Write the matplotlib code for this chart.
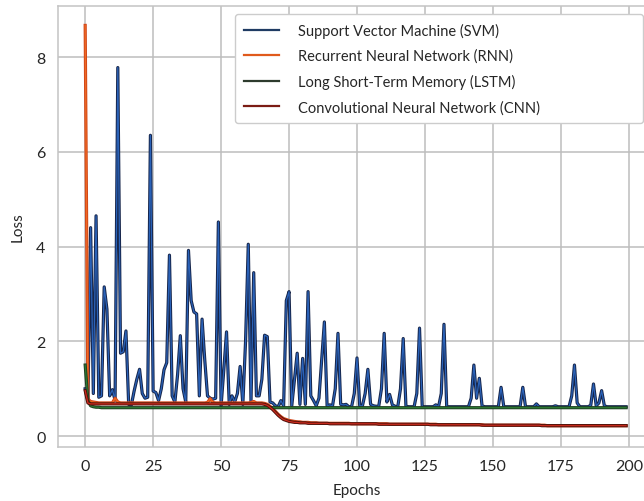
import numpy as np
import matplotlib
matplotlib.use("Agg")
import matplotlib.pyplot as plt
import matplotlib.patheffects as pe
from matplotlib.legend_handler import HandlerLine2D

# loss per epoch
svm = [
    1.00, 0.75, 4.40, 0.90, 4.65, 0.82, 0.85, 3.15, 2.68, 0.85,
    0.98, 0.76, 7.78, 1.75, 1.78, 2.22, 0.67, 0.66, 0.95, 1.20,
    1.41, 0.90, 0.80, 0.82, 6.35, 0.95, 0.92, 0.75, 1.00, 1.40,
    1.55, 3.82, 0.85, 0.72, 1.30, 2.12, 1.00, 0.72, 3.92, 2.86,
    2.62, 2.58, 0.85, 2.47, 1.60, 0.85, 0.80, 0.78, 0.80, 4.52,
    0.64, 1.40, 2.20, 0.67, 0.85, 0.72, 0.90, 1.47, 0.67, 2.00,
    4.05, 0.72, 3.45, 0.85, 0.85, 1.20, 2.13, 2.10, 0.72, 0.70,
    0.64, 0.62, 0.75, 0.64, 2.86, 3.05, 0.64, 1.20, 1.75, 0.67,
    1.64, 0.67, 3.05, 0.85, 0.75, 0.64, 0.80, 1.60, 2.41, 0.64,
    0.66, 0.64, 1.00, 2.17, 0.67, 0.66, 0.67, 0.62, 0.62, 0.90,
    1.65, 0.64, 0.64, 0.90, 1.41, 0.67, 0.64, 0.63, 0.63, 1.00,
    2.17, 0.72, 0.88, 0.66, 0.63, 0.62, 1.00, 2.06, 0.63, 0.62,
    0.62, 0.62, 0.90, 2.28, 0.62, 0.62, 0.62, 0.62, 0.62, 0.66,
    0.62, 0.90, 2.36, 0.62, 0.62, 0.62, 0.62, 0.62, 0.62, 0.62,
    0.62, 0.62, 0.80, 1.50, 0.80, 1.22, 0.64, 0.62, 0.62, 0.62,
    0.62, 0.62, 0.62, 1.03, 0.62, 0.62, 0.62, 0.62, 0.62, 0.62,
    0.62, 1.03, 0.62, 0.62, 0.62, 0.62, 0.68, 0.62, 0.62, 0.62,
    0.62, 0.62, 0.62, 0.64, 0.62, 0.62, 0.62, 0.62, 0.62, 0.85,
    1.50, 0.70, 0.62, 0.62, 0.62, 0.62, 0.65, 1.10, 0.64, 0.70,
    0.96, 0.64, 0.62, 0.62, 0.62, 0.62, 0.62, 0.62, 0.62, 0.62,
]

rnn = [
    8.67, 0.78, 0.73, 0.72, 0.71, 0.70, 0.70, 0.70, 0.70, 0.70,
    0.70, 0.80, 0.72, 0.70, 0.70, 0.70, 0.70, 0.70, 0.70, 0.70,
    0.70, 0.70, 0.70, 0.70, 0.70, 0.70, 0.70, 0.70, 0.70, 0.70,
    0.70, 0.70, 0.70, 0.70, 0.70, 0.70, 0.70, 0.70, 0.70, 0.70,
    0.70, 0.70, 0.70, 0.70, 0.70, 0.71, 0.79, 0.71, 0.70, 0.70,
    0.70, 0.70, 0.70, 0.70, 0.70, 0.70, 0.70, 0.70, 0.70, 0.70,
    0.70, 0.71, 0.73, 0.70, 0.70, 0.70, 0.69, 0.67, 0.63, 0.58,
    0.52, 0.46, 0.41, 0.37, 0.35, 0.33, 0.32, 0.31, 0.30, 0.30,
    0.29, 0.29, 0.29, 0.28, 0.28, 0.28, 0.27, 0.27, 0.27, 0.27,
    0.27, 0.27, 0.27, 0.27, 0.27, 0.27, 0.27, 0.27, 0.26, 0.26,
    0.26, 0.26, 0.26, 0.26, 0.26, 0.26, 0.26, 0.26, 0.26, 0.26,
    0.26, 0.26, 0.25, 0.25, 0.25, 0.25, 0.25, 0.25, 0.25, 0.25,
    0.25, 0.25, 0.25, 0.25, 0.25, 0.25, 0.25, 0.25, 0.25, 0.25,
    0.24, 0.24, 0.24, 0.24, 0.24, 0.24, 0.24, 0.24, 0.24, 0.24,
    0.24, 0.24, 0.24, 0.24, 0.24, 0.24, 0.24, 0.23, 0.23, 0.23,
    0.23, 0.23, 0.23, 0.23, 0.23, 0.23, 0.23, 0.23, 0.23, 0.23,
    0.23, 0.23, 0.23, 0.23, 0.23, 0.23, 0.23, 0.23, 0.23, 0.23,
    0.22, 0.22, 0.22, 0.22, 0.22, 0.22, 0.22, 0.22, 0.22, 0.22,
    0.22, 0.22, 0.22, 0.22, 0.22, 0.22, 0.22, 0.22, 0.22, 0.22,
    0.22, 0.22, 0.22, 0.22, 0.22, 0.22, 0.22, 0.22, 0.22, 0.22,
]

lstm = [
    1.50, 0.75, 0.64, 0.62, 0.61, 0.61, 0.60, 0.60, 0.60, 0.60,
    0.60, 0.60, 0.60, 0.60, 0.60, 0.60, 0.60, 0.60, 0.60, 0.60,
    0.60, 0.60, 0.60, 0.60, 0.60, 0.60, 0.60, 0.60, 0.60, 0.60,
    0.60, 0.60, 0.60, 0.60, 0.60, 0.60, 0.60, 0.60, 0.60, 0.60,
    0.60, 0.60, 0.60, 0.60, 0.60, 0.60, 0.60, 0.60, 0.60, 0.60,
    0.60, 0.60, 0.60, 0.60, 0.60, 0.60, 0.60, 0.60, 0.60, 0.60,
    0.60, 0.60, 0.60, 0.60, 0.60, 0.60, 0.60, 0.60, 0.60, 0.60,
    0.60, 0.60, 0.60, 0.60, 0.60, 0.60, 0.60, 0.60, 0.60, 0.60,
    0.60, 0.60, 0.60, 0.60, 0.60, 0.60, 0.60, 0.60, 0.60, 0.60,
    0.60, 0.60, 0.60, 0.60, 0.60, 0.60, 0.60, 0.60, 0.60, 0.60,
    0.60, 0.60, 0.60, 0.60, 0.60, 0.60, 0.60, 0.60, 0.60, 0.60,
    0.60, 0.60, 0.60, 0.60, 0.60, 0.60, 0.60, 0.60, 0.60, 0.60,
    0.60, 0.60, 0.60, 0.60, 0.60, 0.60, 0.60, 0.60, 0.60, 0.60,
    0.60, 0.60, 0.60, 0.60, 0.60, 0.60, 0.60, 0.60, 0.60, 0.60,
    0.60, 0.60, 0.60, 0.60, 0.60, 0.60, 0.60, 0.60, 0.60, 0.60,
    0.60, 0.60, 0.60, 0.60, 0.60, 0.60, 0.60, 0.60, 0.60, 0.60,
    0.60, 0.60, 0.60, 0.60, 0.60, 0.60, 0.60, 0.60, 0.60, 0.60,
    0.60, 0.60, 0.60, 0.60, 0.60, 0.60, 0.60, 0.60, 0.60, 0.60,
    0.60, 0.60, 0.60, 0.60, 0.60, 0.60, 0.60, 0.60, 0.60, 0.60,
    0.60, 0.60, 0.60, 0.60, 0.60, 0.60, 0.60, 0.60, 0.60, 0.60,
]

cnn = [
    0.96, 0.70, 0.68, 0.68, 0.68, 0.68, 0.68, 0.68, 0.68, 0.68,
    0.68, 0.68, 0.68, 0.68, 0.68, 0.68, 0.68, 0.68, 0.68, 0.68,
    0.68, 0.68, 0.68, 0.68, 0.68, 0.68, 0.68, 0.68, 0.68, 0.68,
    0.68, 0.68, 0.68, 0.68, 0.68, 0.68, 0.68, 0.68, 0.68, 0.68,
    0.68, 0.68, 0.68, 0.68, 0.68, 0.68, 0.68, 0.68, 0.68, 0.68,
    0.68, 0.68, 0.68, 0.68, 0.68, 0.68, 0.68, 0.68, 0.68, 0.68,
    0.68, 0.68, 0.68, 0.68, 0.68, 0.68, 0.67, 0.65, 0.61, 0.56,
    0.50, 0.44, 0.39, 0.35, 0.33, 0.31, 0.30, 0.29, 0.29, 0.28,
    0.28, 0.28, 0.27, 0.27, 0.27, 0.27, 0.27, 0.27, 0.27, 0.27,
    0.26, 0.26, 0.26, 0.26, 0.26, 0.26, 0.26, 0.26, 0.26, 0.26,
    0.26, 0.26, 0.26, 0.26, 0.26, 0.26, 0.26, 0.26, 0.25, 0.25,
    0.25, 0.25, 0.25, 0.25, 0.25, 0.25, 0.25, 0.25, 0.25, 0.25,
    0.25, 0.25, 0.25, 0.25, 0.25, 0.25, 0.25, 0.24, 0.24, 0.24,
    0.24, 0.24, 0.24, 0.24, 0.24, 0.24, 0.24, 0.24, 0.24, 0.24,
    0.24, 0.24, 0.24, 0.24, 0.24, 0.24, 0.23, 0.23, 0.23, 0.23,
    0.23, 0.23, 0.23, 0.23, 0.23, 0.23, 0.23, 0.23, 0.23, 0.23,
    0.23, 0.23, 0.23, 0.23, 0.23, 0.23, 0.23, 0.23, 0.22, 0.22,
    0.22, 0.22, 0.22, 0.22, 0.22, 0.22, 0.22, 0.22, 0.22, 0.22,
    0.22, 0.22, 0.22, 0.22, 0.22, 0.22, 0.22, 0.22, 0.22, 0.22,
    0.22, 0.22, 0.22, 0.22, 0.22, 0.22, 0.22, 0.22, 0.22, 0.22,
]

labels = [
    "Support Vector Machine (SVM)",
    "Recurrent Neural Network (RNN)",
    "Long Short-Term Memory (LSTM)",
    "Convolutional Neural Network (CNN)",
]
x_ticks = [0, 25, 50, 75, 100, 125, 150, 175, 200]
y_ticks = [0, 2, 4, 6, 8]

plt.rcParams['font.family'] = ['Lato', 'DejaVu Sans']

epochs = np.arange(len(svm))

fig = plt.figure(figsize=(6.44, 5.02), dpi=100)
ax = fig.add_axes([58 / 644, 54 / 502, 598 / 644, 441 / 502])

# (bright core, dark edge, legend colour)
styles = [
    ("#2a62b8", "#16254a", "#1f3b63"),
    ("#ee6a22", "#d2461a", "#e05a1c"),
    ("#2c7a32", "#1d3f22", "#2d3b2d"),
    ("#cc2a1c", "#4e100a", "#7b1c14"),
]

series = [svm, rnn, lstm, cnn]
for data, label, (core, edge, leg) in zip(series, labels, styles):
    line, = ax.plot(epochs, data, color=core, lw=0.9, label=label)
    line.set_path_effects([pe.Stroke(linewidth=2.3, foreground=edge), pe.Normal()])
    line.legend_color = leg


def legend_line(legline, orig):
    legline.update_from(orig)
    legline.set_path_effects([])
    legline.set_color(orig.legend_color)
    legline.set_linewidth(1.6)


ax.set_xlim(-10, 210)
ax.set_ylim(-0.23, 9.08)
ax.set_xticks(x_ticks)
ax.set_yticks(y_ticks)
ax.tick_params(length=0, labelsize=11.5, colors="#262626", pad=9)
ax.grid(True, color="#bdbdbd", lw=1.1)
ax.set_axisbelow(True)
for sp in ax.spines.values():
    sp.set_color("#c4c4c4")
    sp.set_linewidth(1.1)

ax.set_xlabel("Epochs", fontsize=11, color="#262626", labelpad=7)
ax.set_ylabel("Loss", fontsize=11, color="#262626", labelpad=8)

top = 1 - 15 / 502
leg = ax.legend(
    loc="upper left",
    bbox_to_anchor=(235 / 644, top - 0.3, 408 / 644, 0.3),
    bbox_transform=fig.transFigure,
    mode="expand",
    fontsize=10.5,
    handlelength=2.4,
    handletextpad=1.3,
    labelspacing=0.75,
    borderpad=0.6,
    borderaxespad=0,
    fancybox=True,
    framealpha=1,
    edgecolor="#cccccc",
    handler_map={matplotlib.lines.Line2D: HandlerLine2D(update_func=legend_line)},
)
for t in leg.get_texts():
    t.set_color("#262626")

fig.savefig("out.png", dpi=100)
